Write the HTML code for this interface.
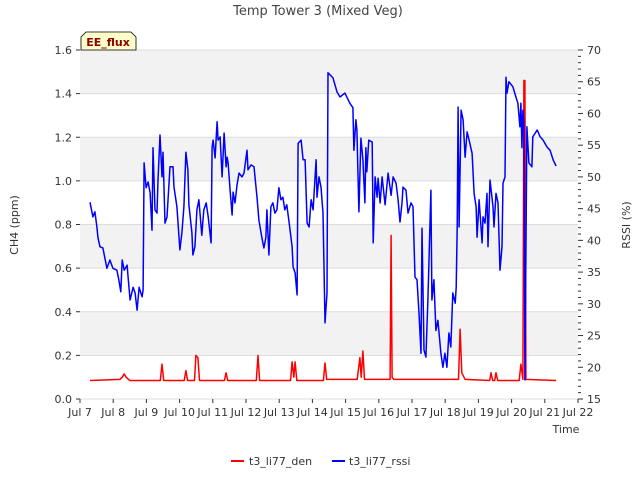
<!DOCTYPE html>
<html><head><meta charset="utf-8"><style>
body{margin:0;background:#fff;}
svg{display:block;font-family:"DejaVu Sans","Liberation Sans",sans-serif;}
</style></head><body>
<svg id="chart" width="640" height="480" xmlns="http://www.w3.org/2000/svg">
<text x="318" y="15" text-anchor="middle" font-size="13" fill="#444">Temp Tower 3 (Mixed Veg)</text>
<g id="bands"></g>
<g id="axes"></g>
<g id="series"></g>
<text transform="translate(18,225) rotate(-90)" text-anchor="middle" font-size="11" fill="#333">CH4 (ppm)</text>
<text transform="translate(630,225) rotate(-90)" text-anchor="middle" font-size="11" fill="#333">RSSI (%)</text>
<text x="566" y="433" text-anchor="middle" font-size="11" fill="#333">Time</text>
<g>
<path d="M81,50 L81,37 L86,32 L131,32 L136,37 L136,50 Z" fill="#ffffcc" stroke="#000" stroke-width="0.8"/>
<text x="108" y="46" text-anchor="middle" font-size="11" font-weight="bold" fill="#8b0000">EE_flux</text>
</g>
<g>
<g><line x1="231" y1="461" x2="244" y2="461" stroke="#ff0000" stroke-width="2"/><text x="249" y="465" font-size="11" fill="#333">t3_li77_den</text></g>
<g><line x1="332" y1="461" x2="345" y2="461" stroke="#0000ff" stroke-width="2"/><text x="349" y="465" font-size="11" fill="#333">t3_li77_rssi</text></g>
</g>
</svg>
<script>
const xTickLabels=["Jul 7","Jul 8","Jul 9","Jul 10","Jul 11","Jul 12","Jul 13","Jul 14","Jul 15","Jul 16","Jul 17","Jul 18","Jul 19","Jul 20","Jul 21","Jul 22"];
const yTicks=[0,0.2,0.4,0.6,0.8,1.0,1.2,1.4,1.6];
const y2Ticks=[15,20,25,30,35,40,45,50,55,60,65,70];
const rssiDays=[.30,.39,.45,.51,.54,.60,.69,.81,.90,.99,1.11,1.17,1.23,1.27,1.33,1.42,1.45,1.51,1.60,1.66,1.72,1.78,1.87,1.90,1.93,1.99,2.05,2.11,2.17,2.20,2.26,2.32,2.35,2.41,2.47,2.50,2.56,2.62,2.71,2.80,2.83,2.92,3.01,3.07,3.13,3.19,3.25,3.28,3.37,3.40,3.46,3.52,3.58,3.67,3.73,3.80,3.86,3.95,3.98,4.01,4.07,4.13,4.16,4.22,4.28,4.34,4.40,4.43,4.46,4.52,4.58,4.61,4.67,4.73,4.79,4.88,4.94,5.03,5.06,5.15,5.24,5.33,5.39,5.48,5.54,5.60,5.63,5.69,5.75,5.81,5.87,5.93,5.99,6.05,6.11,6.17,6.23,6.30,6.39,6.42,6.48,6.54,6.57,6.66,6.72,6.78,6.84,6.90,6.96,7.02,7.11,7.14,7.20,7.26,7.32,7.35,7.38,7.44,7.47,7.62,7.74,7.83,7.98,8.13,8.22,8.25,8.31,8.34,8.40,8.46,8.52,8.58,8.61,8.64,8.70,8.80,8.83,8.89,8.95,8.98,9.04,9.10,9.19,9.28,9.37,9.43,9.52,9.58,9.64,9.70,9.73,9.82,9.88,9.97,10.03,10.09,10.15,10.21,10.27,10.30,10.36,10.42,10.48,10.57,10.60,10.66,10.72,10.78,10.87,10.93,10.99,11.05,11.11,11.17,11.23,11.30,11.33,11.36,11.39,11.42,11.48,11.54,11.60,11.66,11.72,11.81,11.87,11.93,11.96,12.02,12.11,12.14,12.20,12.26,12.29,12.35,12.44,12.47,12.53,12.59,12.65,12.71,12.74,12.80,12.83,12.86,12.92,13.04,13.13,13.19,13.25,13.28,13.31,13.34,13.37,13.40,13.46,13.52,13.61,13.64,13.77,13.86,13.95,14.07,14.16,14.25,14.34];
const rssiValues=[46.0,43.7,44.5,42.1,40.5,39.0,38.8,35.6,36.9,35.6,35.3,33.8,31.9,36.9,35.3,36.1,34.2,30.6,32.6,31.7,29.0,32.6,31.1,32.2,52.2,48.3,49.2,47.5,41.6,54.6,44.8,44.3,49.5,56.6,50.0,53.9,42.7,43.7,51.6,51.6,48.4,45.3,38.5,41.2,45.3,53.9,51.1,45.6,41.2,37.7,39.0,44.8,46.4,40.8,44.8,45.9,43.7,39.6,54.7,55.8,53.0,58.7,55.8,56.3,50.0,56.9,51.6,53.1,52.2,47.9,44.0,47.6,45.9,48.7,50.6,50.0,50.6,54.2,51.1,51.9,51.6,46.8,43.2,40.4,38.8,40.5,44.8,37.7,45.3,45.9,44.3,44.8,48.3,46.4,46.8,44.8,45.6,42.7,39.0,35.8,34.9,31.4,55.3,55.8,52.7,52.7,42.7,42.1,46.4,44.8,52.7,46.8,50.0,48.4,44.3,35.8,27.0,31.7,66.4,65.6,63.4,62.6,63.2,61.6,60.9,54.2,59.0,57.4,44.5,56.1,52.7,45.9,54.6,50.8,55.8,55.5,39.6,50.0,46.8,49.8,45.9,50.0,45.6,50.6,47.1,50.0,49.0,46.4,42.9,45.9,48.4,47.9,44.3,45.9,45.3,34.2,33.8,28.5,22.2,41.9,22.7,21.6,30.6,47.9,30.6,33.8,25.8,27.4,22.2,20.0,22.2,20.0,25.4,23.2,31.7,30.1,32.6,42.1,61.0,42.1,60.5,59.0,53.1,57.1,55.8,53.7,47.4,45.3,40.5,46.4,39.6,43.7,42.7,47.4,39.0,49.5,45.3,42.1,47.4,45.9,35.3,39.0,49.0,50.0,65.7,63.2,65.0,64.2,62.6,61.6,57.9,61.6,54.6,60.5,58.7,18.0,57.9,52.2,51.6,56.3,57.4,56.3,55.8,54.7,54.2,52.7,51.7];
const denDays=[.30,1.20,1.27,1.33,1.39,1.50,2.42,2.47,2.52,3.14,3.19,3.24,3.45,3.49,3.55,3.60,4.35,4.40,4.45,5.31,5.36,5.41,6.34,6.39,6.44,6.48,6.53,7.33,7.38,7.43,8.35,8.43,8.47,8.52,8.57,9.34,9.37,9.40,9.45,11.40,11.45,11.50,11.60,12.34,12.38,12.43,12.49,12.53,12.58,13.23,13.28,13.34,13.37,13.40,13.43,14.34];
const denValues=[0.085,0.09,0.10,0.115,0.10,0.085,0.085,0.16,0.085,0.085,0.13,0.085,0.085,0.20,0.19,0.085,0.085,0.12,0.085,0.085,0.20,0.085,0.085,0.17,0.10,0.17,0.085,0.085,0.165,0.09,0.09,0.19,0.10,0.22,0.09,0.09,0.75,0.10,0.09,0.09,0.32,0.12,0.09,0.085,0.12,0.085,0.085,0.12,0.085,0.085,0.16,0.09,1.46,1.46,0.09,0.085];

const NS="http://www.w3.org/2000/svg";
const L=80,R=578,T=50,B=399;
const xS=d=>L+d*(R-L)/15;
const yS=v=>B-v*(B-T)/1.6;
const y2S=v=>B-(v-15)*(B-T)/55;
function mk(tag,attrs,parent){const e=document.createElementNS(NS,tag);for(const k in attrs)e.setAttribute(k,attrs[k]);parent.appendChild(e);return e;}
const bands=document.getElementById('bands'),axes=document.getElementById('axes'),series=document.getElementById('series');
for(let i=0;i<yTicks.length-1;i++){
  const r=mk('rect',{x:L,y:yS(yTicks[i+1]),width:R-L,height:yS(yTicks[i])-yS(yTicks[i+1]),fill:(i%2===1)?'#f2f2f2':'#ffffff'},bands);
  
  
}
yTicks.forEach(v=>{
  const g=mk('line',{x1:L,x2:R,y1:yS(v),y2:yS(v),stroke:'#dcdcdc','stroke-width':1},bands);
  
  
  mk('line',{x1:L-4,x2:L,y1:yS(v),y2:yS(v),stroke:'#333'},axes);
  const t=mk('text',{x:L-8,y:yS(v)+4,'text-anchor':'end','font-size':11,fill:'#333'},axes);
  t.textContent=v.toFixed(1);
  
  
});
for(let v=15;v<=70;v++){
  mk('line',{x1:R,x2:R+(v%5===0?5:3),y1:y2S(v),y2:y2S(v),stroke:'#333'},axes);
}
y2Ticks.forEach(v=>{
  const t=mk('text',{x:R+9,y:y2S(v)+4,'font-size':11,fill:'#333'},axes);
  t.textContent=v;
  
  
});
xTickLabels.forEach((s,i)=>{
  mk('line',{x1:xS(i),x2:xS(i),y1:B,y2:B+4,stroke:'#333'},axes);
  const t=mk('text',{x:xS(i),y:B+17,'text-anchor':'middle','font-size':11,fill:'#333'},axes);
  t.textContent=s;
  
  
});
const den=mk('polyline',{points:denDays.map((d,i)=>xS(d).toFixed(1)+','+yS(denValues[i]).toFixed(1)).join(' '),fill:'none',stroke:'#ff0000','stroke-width':1.5,'stroke-linejoin':'round'},series);


const rssi=mk('polyline',{points:rssiDays.map((d,i)=>xS(d).toFixed(1)+','+y2S(rssiValues[i]).toFixed(1)).join(' '),fill:'none',stroke:'#0000ff','stroke-width':1.5,'stroke-linejoin':'round'},series);


</script>
</body></html>
